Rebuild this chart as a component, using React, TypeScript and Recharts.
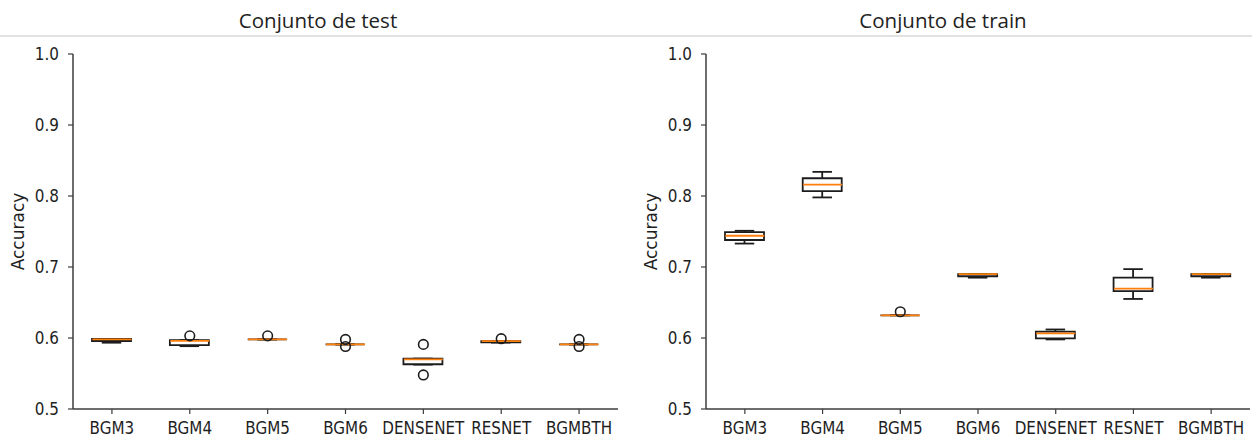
import { Bar, ComposedChart, Scatter, XAxis, YAxis } from 'recharts';

// Two matplotlib-style box plots (test / train accuracy per model).
// Boxes and whiskers are overlapping range bars, medians and fliers are scatters.

const CATEGORIES = ['BGM3', 'BGM4', 'BGM5', 'BGM6', 'DENSENET', 'RESNET', 'BGMBTH'];
const Y_TICKS = [0.5, 0.6, 0.7, 0.8, 0.9, 1.0];

// test set
const TEST_LOW = [0.5934, 0.5885, 0.598, 0.591, 0.5625, 0.5935, 0.591];
const TEST_Q1 = [0.5958, 0.5900, 0.598, 0.591, 0.5630, 0.5940, 0.591];
const TEST_MED = [0.5980, 0.5960, 0.598, 0.591, 0.5700, 0.5955, 0.591];
const TEST_Q3 = [0.5986, 0.5970, 0.598, 0.591, 0.5710, 0.5955, 0.591];
const TEST_HIGH = [0.5986, 0.5970, 0.598, 0.591, 0.5710, 0.5955, 0.591];
const TEST_OUT_A = [null, 0.603, 0.603, 0.598, 0.591, 0.599, 0.598];
const TEST_OUT_B = [null, null, null, 0.588, 0.548, null, 0.588];

// train set
const TRAIN_LOW = [0.733, 0.798, 0.632, 0.685, 0.598, 0.655, 0.685];
const TRAIN_Q1 = [0.738, 0.807, 0.632, 0.687, 0.5995, 0.666, 0.687];
const TRAIN_MED = [0.744, 0.816, 0.632, 0.690, 0.6065, 0.6695, 0.690];
const TRAIN_Q3 = [0.749, 0.825, 0.632, 0.690, 0.609, 0.685, 0.690];
const TRAIN_HIGH = [0.751, 0.834, 0.632, 0.690, 0.612, 0.697, 0.690];
const TRAIN_OUT_A = [null, null, 0.637, null, null, null, null];
const TRAIN_OUT_B = [null, null, null, null, null, null, null];

const INK = '#1c1c1c';
const AXIS = '#3c3c3c';
const TEXT = '#1e1e1e';
const ORANGE = '#ff7f0e';
const BOX_W = 39;
const FONT = '"DejaVu Sans", sans-serif';

const build = (
  low: number[],
  q1: number[],
  med: number[],
  q3: number[],
  high: number[],
  outA: (number | null)[],
  outB: (number | null)[],
) =>
  CATEGORIES.map((name, i) => ({
    name,
    whisker: [low[i], high[i]],
    box: [q1[i], q3[i]],
    med: med[i],
    outA: outA[i],
    outB: outB[i],
  }));

const testData = build(TEST_LOW, TEST_Q1, TEST_MED, TEST_Q3, TEST_HIGH, TEST_OUT_A, TEST_OUT_B);
const trainData = build(TRAIN_LOW, TRAIN_Q1, TRAIN_MED, TRAIN_Q3, TRAIN_HIGH, TRAIN_OUT_A, TRAIN_OUT_B);

const WhiskerShape = (p: any) => {
  const cx = p.x + p.width / 2;
  const cap = p.width / 4;
  const top = p.y;
  const bot = p.y + p.height;
  return (
    <g stroke={INK} strokeWidth={1.8} fill="none">
      <line x1={cx} x2={cx} y1={top} y2={bot} />
      <line x1={cx - cap} x2={cx + cap} y1={top} y2={top} />
      <line x1={cx - cap} x2={cx + cap} y1={bot} y2={bot} />
    </g>
  );
};

const BoxShape = (p: any) => (
  <path
    d={`M${p.x},${p.y}h${p.width}v${p.height}h${-p.width}Z`}
    fill="#fff"
    stroke={INK}
    strokeWidth={1.8}
  />
);

const MedianShape = (p: any) => (
  <line x1={p.cx - BOX_W / 2} x2={p.cx + BOX_W / 2} y1={p.cy} y2={p.cy} stroke={ORANGE} strokeWidth={1.8} />
);

const flier = (key: string) => (p: any) => {
  if (p.payload?.[key] == null) return <g />;
  return <circle cx={p.cx} cy={p.cy} r={4.8} fill="none" stroke={INK} strokeWidth={1.6} />;
};

const YTick = (p: any) => (
  <g transform={`translate(${p.x},${p.y}) scale(0.95,1.12)`}>
    <text textAnchor="end" dy={5.5} fontSize={16} fontFamily={FONT} fill={TEXT}>
      {Number(p.payload.value).toFixed(1)}
    </text>
  </g>
);

const XTick = (p: any) => (
  <g transform={`translate(${p.x},${p.y}) scale(0.92,1.12)`}>
    <text textAnchor="middle" dy={15.3} fontSize={16.5} fontFamily={FONT} fill={TEXT}>
      {p.payload.value}
    </text>
  </g>
);

const yLabel = ({ viewBox }: any) => (
  <text
    transform={`translate(${viewBox.x - 5},${viewBox.y + viewBox.height / 2}) rotate(-90)`}
    textAnchor="middle"
    dominantBaseline="central"
    fontSize={17}
    fontFamily={FONT}
    fill={TEXT}
  >
    Accuracy
  </text>
);

function BoxPlot({ data, left, right }: { data: any[]; left: number; right: number }) {
  return (
    <ComposedChart
      width={626}
      height={438}
      data={data}
      barGap={-BOX_W}
      margin={{ top: 54, right, bottom: 4, left }}
    >
      <XAxis
        dataKey="name"
        tick={<XTick />}
        tickSize={5}
        tickMargin={3}
        height={25}
        interval={0}
        axisLine={{ stroke: AXIS, strokeWidth: 1.5 }}
        tickLine={{ stroke: AXIS, strokeWidth: 1.2 }}
      />
      <XAxis xAxisId="top" dataKey="name" orientation="top" height={0} tick={false} tickLine={false} axisLine={{ stroke: AXIS, strokeWidth: 1.5 }} />
      <YAxis
        type="number"
        domain={[0.5, 1]}
        ticks={Y_TICKS}
        tick={<YTick />}
        tickSize={5}
        tickMargin={9}
        width={50}
        axisLine={{ stroke: AXIS, strokeWidth: 1.5 }}
        tickLine={{ stroke: AXIS, strokeWidth: 1.2 }}
        label={{ content: yLabel }}
      />
      <YAxis yAxisId="right" orientation="right" type="number" domain={[0.5, 1]} width={0} tick={false} tickLine={false} axisLine={{ stroke: AXIS, strokeWidth: 1.5 }} />
      <Bar dataKey="whisker" barSize={BOX_W} shape={WhiskerShape} isAnimationActive={false} />
      <Bar dataKey="box" barSize={BOX_W} shape={BoxShape} isAnimationActive={false} />
      <Scatter dataKey="med" shape={MedianShape} isAnimationActive={false} />
      <Scatter dataKey="outA" shape={flier('outA')} isAnimationActive={false} />
      <Scatter dataKey="outB" shape={flier('outB')} isAnimationActive={false} />
    </ComposedChart>
  );
}

const titleStyle = {
  position: 'absolute' as const,
  top: 7,
  height: 26,
  lineHeight: '26px',
  textAlign: 'center' as const,
  fontFamily: '"Open Sans", sans-serif',
  fontSize: 20.5,
  color: '#222',
};

export default function App() {
  return (
    <div style={{ position: 'fixed', left: 0, top: 0, width: 1252, height: 438, background: '#fff', overflow: 'hidden' }}>
      <div style={{ ...titleStyle, left: 0, width: 636 }}>Conjunto de test</div>
      <div style={{ ...titleStyle, left: 636, width: 614 }}>Conjunto de train</div>
      <div style={{ position: 'absolute', left: 0, top: 35, width: 1252, height: 2, background: '#e2e2e2' }} />
      <div style={{ position: 'absolute', left: 0, top: 0 }}>
        <BoxPlot data={testData} left={23} right={8} />
      </div>
      <div style={{ position: 'absolute', left: 626, top: 0 }}>
        <BoxPlot data={trainData} left={30} right={2} />
      </div>
    </div>
  );
}
